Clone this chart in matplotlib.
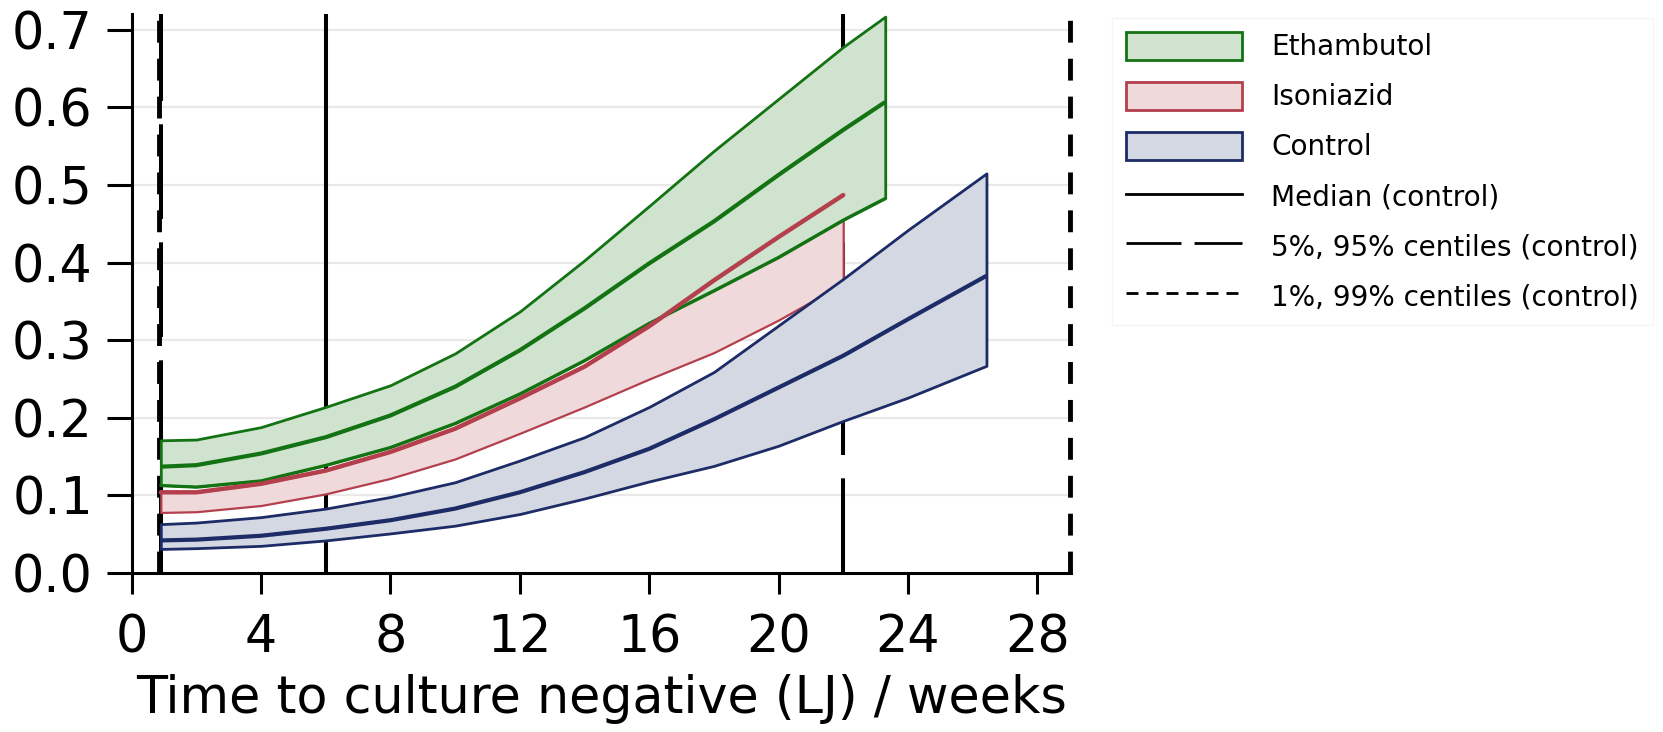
import matplotlib
matplotlib.use("Agg")
import matplotlib.pyplot as plt
from matplotlib.patches import Patch
from matplotlib.lines import Line2D

plt.rcParams['font.family'] = ['DejaVu Sans']

# ---------------- data ----------------
weeks_eth = [0.9, 2, 4, 6, 8, 10, 12, 14, 16, 18, 20, 22, 23.3]
eth_upper = [0.171, 0.172, 0.188, 0.214, 0.242, 0.283, 0.337, 0.403, 0.473, 0.544, 0.611, 0.678, 0.717]
eth_median = [0.137, 0.139, 0.154, 0.175, 0.203, 0.240, 0.287, 0.341, 0.399, 0.453, 0.513, 0.571, 0.607]
eth_lower = [0.113, 0.111, 0.119, 0.139, 0.162, 0.193, 0.231, 0.274, 0.322, 0.364, 0.407, 0.455, 0.483]

weeks_inh = [0.9, 2, 4, 6, 8, 10, 12, 14, 16, 18, 20, 22]
inh_upper = [0.104, 0.104, 0.115, 0.132, 0.156, 0.186, 0.225, 0.266, 0.318, 0.377, 0.433, 0.487]
inh_lower = [0.078, 0.079, 0.087, 0.102, 0.122, 0.147, 0.180, 0.214, 0.250, 0.284, 0.326, 0.373]

weeks_ctl = [0.9, 2, 4, 6, 8, 10, 12, 14, 16, 18, 20, 22, 24, 26.43]
ctl_upper = [0.063, 0.065, 0.072, 0.083, 0.098, 0.117, 0.145, 0.175, 0.214, 0.259, 0.319, 0.379, 0.442, 0.515]
ctl_median = [0.042, 0.043, 0.048, 0.057, 0.068, 0.083, 0.104, 0.130, 0.160, 0.198, 0.239, 0.280, 0.327, 0.383]
ctl_lower = [0.031, 0.032, 0.035, 0.042, 0.051, 0.061, 0.076, 0.096, 0.118, 0.138, 0.164, 0.196, 0.226, 0.267]

centile_median = 6.0
centile_5_95 = [0.9, 22.0]
centile_1_99 = [0.85, 29.0]

x_ticks = [0, 4, 8, 12, 16, 20, 24, 28]
y_ticks = [0.0, 0.1, 0.2, 0.3, 0.4, 0.5, 0.6, 0.7]
x_label = "Time to culture negative (LJ) / weeks"
legend_labels = ["Ethambutol", "Isoniazid", "Control", "Median (control)",
                 "5%, 95% centiles (control)", "1%, 99% centiles (control)"]

# ---------------- styles ----------------
G_EDGE, G_FILL = '#137313', '#cfe3cf'
R_EDGE, R_FILL = '#b3404c', '#f0d9db'
B_EDGE, B_FILL = '#1d2b66', '#d3d8e3'

W, H = 1663, 732
fig = plt.figure(figsize=(W / 100, H / 100), dpi=100)
ax = fig.add_axes([131.7 / W, (H - 573) / H, 939.5 / W, (573 - 14.3) / H])
ax.set_xlim(0, 29.05)
ax.set_ylim(0, 0.72)

# grid
for v in y_ticks[1:]:
    ax.axhline(v, color='#e9e9e9', lw=1.6, zorder=0)

# reference vertical lines (under the bands)
ax.axvline(centile_median, color='black', lw=2.9, zorder=1)
for xv in centile_5_95:
    ax.axvline(xv, color='black', lw=2.9, linestyle=(0, (23.5, 5.8)), zorder=1)
for xv in centile_1_99:
    ax.axvline(xv, color='black', lw=3.5, linestyle=(0, (4.5, 3.3)), zorder=1,
               clip_on=False)

# bands: isoniazid first, then control, then ethambutol on top
ax.fill_between(weeks_inh, inh_lower, inh_upper, facecolor=R_FILL, edgecolor=R_EDGE,
                lw=1.6, zorder=2)
ax.fill_between(weeks_ctl, ctl_lower, ctl_upper, facecolor=B_FILL, edgecolor=B_EDGE,
                lw=2.0, zorder=3)
ax.fill_between(weeks_eth, eth_lower, eth_upper, facecolor=G_FILL, edgecolor=G_EDGE,
                lw=2.0, zorder=4)

# lines on top
ax.plot(weeks_ctl, ctl_median, color=B_EDGE, lw=3.0, zorder=5, solid_capstyle='butt')
ax.plot(weeks_eth, eth_median, color=G_EDGE, lw=3.0, zorder=5, solid_capstyle='butt')
ax.plot(weeks_eth, eth_lower, color=G_EDGE, lw=2.0, zorder=5)
ax.plot(weeks_inh, inh_upper, color=R_EDGE, lw=3.2, zorder=6, solid_capstyle='round')

# axes styling
for s in ['top', 'right']:
    ax.spines[s].set_visible(False)
for s in ['left', 'bottom']:
    ax.spines[s].set_linewidth(2.2)
    ax.spines[s].set_zorder(7)
ax.set_xticks(x_ticks)
ax.set_yticks(y_ticks)
ax.set_yticklabels([f"{v:.1f}" for v in y_ticks])
ax.tick_params(axis='y', length=18, width=2.2, pad=10, labelsize=36.5)
ax.tick_params(axis='x', length=15, width=2.2, pad=14, labelsize=36.5)
ax.set_xlabel(x_label, fontsize=36.5, labelpad=8)

# legend
handles = [
    Patch(facecolor=G_FILL, edgecolor=G_EDGE, lw=2.0),
    Patch(facecolor=R_FILL, edgecolor=R_EDGE, lw=2.0),
    Patch(facecolor=B_FILL, edgecolor=B_EDGE, lw=2.0),
    Line2D([], [], color='black', lw=2.0),
    Line2D([], [], color='black', lw=2.0, linestyle=(0, (19.8, 4.7))),
    Line2D([], [], color='black', lw=2.0, linestyle=(0, (4.3, 2.9))),
]
leg = fig.legend(handles, legend_labels, loc='upper left',
                 bbox_to_anchor=(1112 / W, 1 - 18 / H), bbox_transform=fig.transFigure,
                 fontsize=20.1, handlelength=4.15, handleheight=1.15, handletextpad=1.05,
                 labelspacing=0.74, borderpad=0.5, borderaxespad=0, fancybox=False,
                 frameon=True)
leg.get_frame().set_edgecolor('#f3f3f3')
leg.get_frame().set_linewidth(1.0)

fig.savefig("out.png", dpi=100)
